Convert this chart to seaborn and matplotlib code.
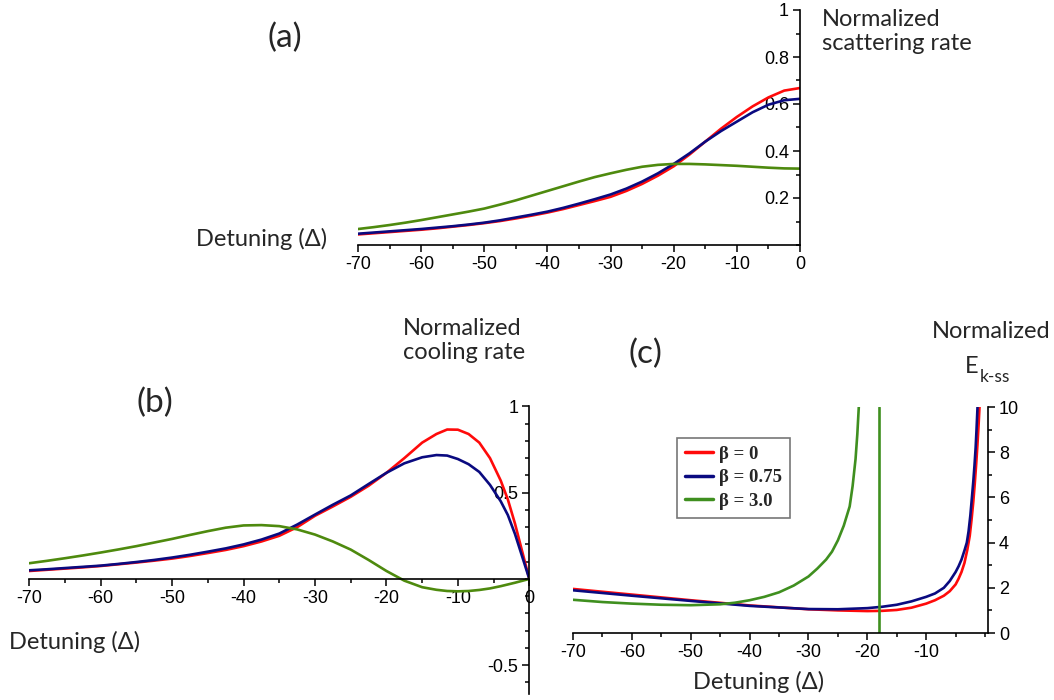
import matplotlib
matplotlib.use("Agg")
import matplotlib.pyplot as plt
import seaborn as sns
from matplotlib.ticker import FixedLocator, MultipleLocator

# ---------------- data ----------------
# (a) normalized scattering rate
x_a = [-70, -67.5, -65, -62.5, -60, -57.5, -55, -52.5, -50, -47.5, -45, -42.5, -40, -37.5, -35, -32.5,
       -30, -27.5, -25, -22.5, -20, -17.5, -15, -12.5, -10, -7.5, -5, -2.5, 0]
red_a = [0.045, 0.05, 0.055, 0.06, 0.065, 0.071, 0.078, 0.085, 0.093, 0.102, 0.113, 0.125, 0.138, 0.153,
         0.17, 0.187, 0.205, 0.23, 0.26, 0.295, 0.335, 0.385, 0.44, 0.495, 0.545, 0.59, 0.628, 0.657, 0.668]
blue_a = [0.048, 0.053, 0.058, 0.063, 0.068, 0.074, 0.08, 0.087, 0.095, 0.105, 0.117, 0.129, 0.142, 0.158,
          0.176, 0.195, 0.215, 0.24, 0.27, 0.305, 0.345, 0.39, 0.44, 0.485, 0.525, 0.565, 0.597, 0.616, 0.622]
green_a = [0.068, 0.076, 0.085, 0.095, 0.106, 0.118, 0.13, 0.142, 0.155, 0.172, 0.19, 0.21, 0.23, 0.25,
           0.27, 0.289, 0.305, 0.32, 0.333, 0.341, 0.345, 0.345, 0.343, 0.34, 0.337, 0.333, 0.329, 0.326, 0.325]

# (b) normalized cooling rate
x_b = [-70, -67.5, -65, -62.5, -60, -57.5, -55, -52.5, -50, -47.5, -45, -42.5, -40, -37.5, -35, -32.5,
       -30, -27.5, -25, -22.5, -20, -17.5, -15, -13, -11.5, -10, -8.5, -7, -5.5, -4, -3, -2, -1, 0]
red_b = [0.046, 0.053, 0.06, 0.067, 0.075, 0.085, 0.095, 0.106, 0.118, 0.133, 0.15, 0.168, 0.19, 0.217,
         0.25, 0.3, 0.366, 0.42, 0.476, 0.54, 0.615, 0.7, 0.79, 0.84, 0.866, 0.865, 0.84, 0.79, 0.7, 0.57,
         0.46, 0.32, 0.16, 0.0]
blue_b = [0.05, 0.056, 0.063, 0.07, 0.077, 0.087, 0.098, 0.11, 0.124, 0.14, 0.158, 0.177, 0.2, 0.228,
          0.263, 0.315, 0.373, 0.43, 0.484, 0.55, 0.615, 0.67, 0.705, 0.718, 0.715, 0.695, 0.665, 0.62,
          0.545, 0.45, 0.37, 0.26, 0.13, 0.0]
green_b = [0.091, 0.105, 0.12, 0.136, 0.153, 0.171, 0.19, 0.211, 0.232, 0.255, 0.277, 0.297, 0.31, 0.312,
           0.306, 0.287, 0.257, 0.217, 0.17, 0.11, 0.046, -0.01, -0.048, -0.063, -0.07, -0.072, -0.07,
           -0.064, -0.055, -0.042, -0.032, -0.022, -0.011, 0.0]

# (c) normalized E_k-ss
x_c_red = [-70, -60, -50, -40, -30, -25, -20, -17.5, -15, -12.5, -10, -8.5, -7, -6, -5, -4.5, -4, -3.5,
           -3, -2.6, -2.3, -2, -1.75, -1.5, -1.3, -1.1, -0.94]
red_c = [1.95, 1.70, 1.45, 1.22, 1.05, 1.0, 0.97, 0.98, 1.02, 1.12, 1.3, 1.45, 1.65, 1.85, 2.15, 2.4, 2.7,
         3.1, 3.7, 4.3, 5.0, 5.8, 6.6, 7.5, 8.3, 9.2, 10.0]
x_c_blue = [-70, -60, -50, -40, -30, -25, -20, -17.5, -15, -12.5, -10, -8.5, -7, -6, -5, -4.5, -4, -3.5,
            -3.1, -2.8, -2.5, -2.23, -2, -1.8, -1.6, -1.45, -1.28]
blue_c = [1.89, 1.65, 1.42, 1.20, 1.06, 1.05, 1.1, 1.16, 1.25, 1.4, 1.6, 1.75, 2.0, 2.3, 2.7, 2.95, 3.25,
          3.65, 4.0, 4.5, 5.2, 6.0, 6.7, 7.4, 8.2, 9.0, 10.0]
x_c_green = [-70, -65, -60, -55, -50, -45, -42.5, -40, -37.5, -35, -32.5, -30, -28.5, -27, -26, -25, -24,
             -23, -22.5, -22, -21.7, -21.45]
green_c = [1.47, 1.37, 1.3, 1.25, 1.23, 1.27, 1.34, 1.45, 1.6, 1.8, 2.1, 2.5, 2.85, 3.25, 3.6, 4.1, 4.75,
           5.6, 6.5, 7.7, 8.8, 10.0]
green_asymptote = -18.0

legend_labels = ["\u03b2 = 0", "\u03b2 = 0.75", "\u03b2 = 3.0"]

x_ticks = [-70, -60, -50, -40, -30, -20, -10, 0]
x_ticklabels = ["-70", "-60", "-50", "-40", "-30", "-20", "-10", "0"]
a_yticks = [0.2, 0.4, 0.6, 0.8, 1.0]
a_yticklabels = ["0.2", "0.4", "0.6", "0.8", "1"]
b_yticks = [-0.5, 0.5, 1.0]
b_yticklabels = ["-0.5", "0.5", "1"]
c_xticks = [-70, -60, -50, -40, -30, -20, -10]
c_xticklabels = ["-70", "-60", "-50", "-40", "-30", "-20", "-10"]
c_yticks = [0, 2, 4, 6, 8, 10]
c_yticklabels = ["0", "2", "4", "6", "8", "10"]

# ---------------- style ----------------
sns.set_style("white")
plt.rcParams["font.family"] = ["Liberation Sans", "DejaVu Sans"]
plt.rcParams["axes.unicode_minus"] = False

RED = "#ff0a0a"
BLUE = "#0a0a80"
GREEN = "#4e8a0e"
GREEN_C = "#3f8f1f"
LW = 1.9
LABEL_FONT = ["Lato", "DejaVu Sans"]
LFS = 17

W, H = 1054, 700
fig = plt.figure(figsize=(W / 100, H / 100), dpi=100)


def add_ax(left, top, right, bottom):
    return fig.add_axes([left / W, 1 - bottom / H, (right - left) / W, (bottom - top) / H])


def style_ticks(ax, left=True, right=False):
    ax.tick_params(axis="both", which="both", bottom=True, top=False, left=left, right=right,
                   direction="out", colors="black", width=1.1)
    ax.tick_params(axis="both", which="major", length=5, labelsize=13, pad=3)
    ax.tick_params(axis="both", which="minor", length=3)


# ---------------- (a) ----------------
ax = add_ax(358, 10, 800, 245)
for y, c in zip([red_a, blue_a, green_a], [RED, BLUE, GREEN]):
    sns.lineplot(x=x_a, y=y, ax=ax, color=c, lw=LW, estimator=None)
ax.set_xlim(-70, 0)
ax.set_ylim(0, 1)
for s in ["top", "right"]:
    ax.spines[s].set_visible(False)
ax.spines["left"].set_position(("data", 0))
for s in ["left", "bottom"]:
    ax.spines[s].set_color("black")
    ax.spines[s].set_linewidth(1.2)
ax.xaxis.set_major_locator(FixedLocator(x_ticks))
ax.set_xticklabels(x_ticklabels)
ax.xaxis.set_minor_locator(MultipleLocator(5))
ax.yaxis.set_major_locator(FixedLocator(a_yticks))
ax.set_yticklabels(a_yticklabels)
ax.yaxis.set_minor_locator(MultipleLocator(0.1))
style_ticks(ax)
ax.set_xlabel("")
ax.set_ylabel("")
ax.patch.set_alpha(0)

fig.text(285 / W, 1 - 38 / H, "(a)", family=LABEL_FONT, fontsize=24, ha="center", va="center")
fig.text(822 / W, 1 - 9 / H, "Normalized\nscattering rate", family=LABEL_FONT, fontsize=LFS,
         ha="left", va="top", linespacing=1.2)
fig.text(262 / W, 1 - 239 / H, "Detuning (\u0394)", family=LABEL_FONT, fontsize=LFS, ha="center", va="center")

# ---------------- (b) ----------------
ax = add_ax(29.3, 406.4, 529.3, 694)
for y, c in zip([red_b, blue_b, green_b], [RED, BLUE, GREEN]):
    sns.lineplot(x=x_b, y=y, ax=ax, color=c, lw=LW, estimator=None)
ax.set_xlim(-70, 0)
ax.set_ylim(-0.667, 1)
for s in ["top", "right"]:
    ax.spines[s].set_visible(False)
ax.spines["left"].set_position(("data", 0))
ax.spines["bottom"].set_position(("data", 0))
for s in ["left", "bottom"]:
    ax.spines[s].set_color("black")
    ax.spines[s].set_linewidth(1.2)
ax.xaxis.set_major_locator(FixedLocator(x_ticks))
ax.set_xticklabels(x_ticklabels)
ax.xaxis.set_minor_locator(MultipleLocator(5))
ax.yaxis.set_major_locator(FixedLocator(b_yticks))
ax.set_yticklabels(b_yticklabels)
ax.yaxis.set_minor_locator(MultipleLocator(0.1))
style_ticks(ax)
ax.set_xlabel("")
ax.set_ylabel("")
ax.patch.set_alpha(0)

fig.text(155 / W, 1 - 403 / H, "(b)", family=LABEL_FONT, fontsize=24, ha="center", va="center")
fig.text(403 / W, 1 - 318 / H, "Normalized\ncooling rate", family=LABEL_FONT, fontsize=LFS,
         ha="left", va="top", linespacing=1.2)
fig.text(75 / W, 1 - 642 / H, "Detuning (\u0394)", family=LABEL_FONT, fontsize=LFS, ha="center", va="center")

# ---------------- (c) ----------------
ax = add_ax(573, 407, 988, 633)
for xs, y, c, lab in zip([x_c_red, x_c_blue, x_c_green], [red_c, blue_c, green_c],
                         [RED, BLUE, GREEN_C], legend_labels):
    sns.lineplot(x=xs, y=y, ax=ax, color=c, lw=LW, estimator=None, label=lab, legend=False)
ax.axvline(green_asymptote, color=GREEN_C, lw=LW)
ax.set_xlim(-70, 0.5)
ax.set_ylim(0, 10)
for s in ["top", "left"]:
    ax.spines[s].set_visible(False)
for s in ["right", "bottom"]:
    ax.spines[s].set_color("black")
    ax.spines[s].set_linewidth(1.2)
ax.yaxis.tick_right()
ax.xaxis.set_major_locator(FixedLocator(c_xticks))
ax.set_xticklabels(c_xticklabels)
ax.xaxis.set_minor_locator(MultipleLocator(5))
ax.yaxis.set_major_locator(FixedLocator(c_yticks))
ax.set_yticklabels(c_yticklabels)
ax.yaxis.set_minor_locator(MultipleLocator(1))
style_ticks(ax, left=False, right=True)
ax.set_xlabel("")
ax.set_ylabel("")
ax.patch.set_alpha(0)

h, l = ax.get_legend_handles_labels()
leg = ax.legend(h[:3], l[:3], loc="upper left", bbox_to_anchor=(677 / W, 1 - 438 / H),
                bbox_transform=fig.transFigure, borderaxespad=0, fancybox=False, frameon=True,
                prop={"family": "Liberation Serif", "weight": "bold", "size": 13.5},
                handlelength=1.5, handletextpad=0.35, labelspacing=0.35, borderpad=0.4)
leg.get_frame().set_edgecolor("#555555")
leg.get_frame().set_linewidth(1.2)
for line in leg.get_lines():
    line.set_linewidth(2.5)

fig.text(645 / W, 1 - 354 / H, "(c)", family=LABEL_FONT, fontsize=24, ha="center", va="center")
fig.text(1050 / W, 1 - 332 / H, "Normalized", family=LABEL_FONT, fontsize=LFS, ha="right", va="center")
fig.text(965 / W, 1 - 367 / H, "E", family=LABEL_FONT, fontsize=LFS, ha="left", va="center")
fig.text(980 / W, 1 - 377 / H, "k-ss", family=LABEL_FONT, fontsize=12.5, ha="left", va="center")
fig.text(759 / W, 1 - 682 / H, "Detuning (\u0394)", family=LABEL_FONT, fontsize=LFS, ha="center", va="center")

fig.savefig("out.png", dpi=100)
